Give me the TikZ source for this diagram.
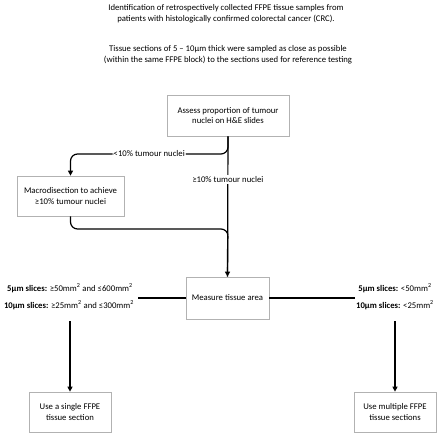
\documentclass[tikz,border=0pt]{standalone}
\usepackage{fontspec}
\setmainfont{Carlito}
\usetikzlibrary{arrows.meta}

\begin{document}
\begin{tikzpicture}[x=1pt,y=-1pt,font=\fontsize{8.7}{10.8}\selectfont,
  box/.style={draw=black!30,line width=0.7pt,align=center,inner sep=0pt},
  flow/.style={line width=1.2pt,-{Triangle[length=5pt,width=5pt]}},
  link/.style={line width=1.2pt}]
\useasboundingbox (0,0) rectangle (440,438);

% Intro

\node[align=center] (intro) at (226,13.5) {Identification of retrospectively collected FFPE tissue samples from\\patients with histologically confirmed colorectal cancer (CRC).};
\node[align=center] (slicing) at (228,55) {Tissue sections of 5 – 10µm thick were sampled as close as possible\\(within the same FFPE block) to the sections used for reference testing};

% Boxes

\node[box,minimum width=122pt,minimum height=41pt] (assess) at (228,115.5) {Assess proportion of tumour\\nuclei on H\&E slides};
\node[box,minimum width=107pt,minimum height=40pt] (macro) at (70.5,196) {Macrodisection to achieve\\≥10\% tumour nuclei};
\node[box,minimum width=83pt,minimum height=42pt] (measure) at (227.5,298) {Measure tissue area};
\node[box,minimum width=82pt,minimum height=40pt] (single) at (70,412) {Use a single FFPE\\tissue section};
\node[box,minimum width=82pt,minimum height=40pt] (multiple) at (395,412) {Use multiple FFPE\\tissue sections};

% Tumour nuclei

\coordinate (split) at (228,154);
\coordinate (join) at (228,229);
\draw[flow,rounded corners=7pt] (assess.south) -- (split) -| node[pos=0.25,fill=white,inner sep=1pt] {<10\% tumour nuclei} (macro.north);
\draw[link,rounded corners=7pt] (macro.south) |- (join) -- (measure.north);
\draw[flow] (assess.south) -- node[pos=0.31,fill=white,inner sep=1.5pt] {≥10\% tumour nuclei} (measure.north);

% Tissue area

\node (l5) at (70,288) {\textbf{5µm slices:} ≥50mm\textsuperscript{2} and ≤600mm\textsuperscript{2}};
\node (l10) at (69,305) {\textbf{10µm slices:} ≥25mm\textsuperscript{2} and ≤300mm\textsuperscript{2}};
\node (r5) at (395,288) {\textbf{5µm slices:} <50mm\textsuperscript{2}};
\node (r10) at (395,305) {\textbf{10µm slices:} <25mm\textsuperscript{2}};

\coordinate (lend) at (138,298);
\coordinate (rend) at (355,298);
\draw[link] (measure.west) -- (lend);
\draw[link] (measure.east) -- (rend);

\draw[flow,shorten <=8pt] (l10.south -| single.north) -- (single.north);
\draw[flow,shorten <=8pt] (r10.south -| multiple.north) -- (multiple.north);

\end{tikzpicture}
\end{document}
